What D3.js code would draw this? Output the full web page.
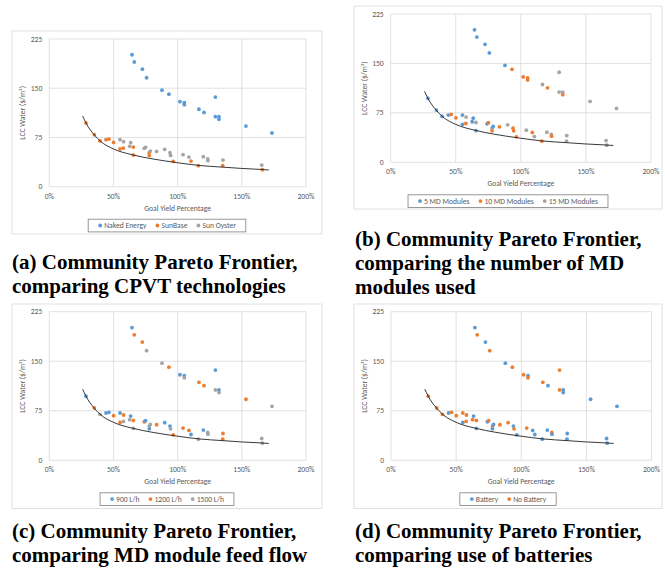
<!DOCTYPE html>
<html>
  <head>
    <title>Community Pareto Frontier</title>
    <script src="https://d3js.org/d3.v7.min.js"></script>
    <style>
      body { margin: 0; background: #fff; }
      .tick-label, .axis-title, .legend text {
        font-family: Carlito, Lato, "Open Sans", sans-serif;
        font-size: 7.6px;
        fill: #595959;
      }
      .caption {
        font-family: "Liberation Serif", "Times New Roman", serif;
        font-weight: bold;
        font-size: 21px;
        fill: #000;
      }
      .grid line { stroke: #d9d9d9; stroke-width: 0.8; }
      .frame { fill: #fff; stroke: #d9d9d9; stroke-width: 0.8; }
      .legend rect { fill: #fff; stroke: #7f7f7f; stroke-width: 0.8; }
    </style>
  </head>
  <body>
    <svg width="665" height="571"></svg>
    <script>
      // points (same 52 designs in every panel)
      const goalYield = [
        64.4, 66.2, 72.5, 75.8, 87.8, 93.2, 101.8, 105.2, 105.2, 116.6, 120.5, 129.4, 129.4, 132.2, 132.2, 153.2, 173.5,
        28.6, 35.1, 39.5, 44.2, 46.5, 50.1, 55.1, 57.7, 65.5, 65.5, 77.9, 77.9, 96.6, 110.4, 116.1, 135.1, 166,
        55.1, 57.9, 62.6, 63.4, 74, 75, 78.7, 83.6, 89.9, 94, 94.5, 104.2, 108.8, 120, 123.4, 123.6, 135.3, 165.5
      ];
      const lccWater = [
        201, 190, 179, 166, 147, 141, 129.5, 128, 125, 118, 113, 136.6, 106.6, 106.6, 102.6, 92.4, 81.8,
        97, 79.2, 69.6, 71.6, 72.6, 67.5, 57.4, 58.9, 60.4, 48.2, 51.8, 47.7, 38.6, 39.1, 32, 32, 25.9,
        71.6, 68.6, 61.5, 67, 58.4, 60, 54.3, 53.8, 56.9, 51.8, 47.7, 48.8, 45.2, 45.7, 42.2, 39.6, 40.6, 33
      ];
      const technology = [
        "NE","NE","NE","NE","NE","NE","NE","NE","NE","NE","NE","NE","NE","NE","NE","NE","NE",
        "SB","SB","SB","SB","SB","SB","SB","SB","SB","SB","SB","SB","SB","SB","SB","SB","SB",
        "SO","SO","SO","SO","SO","SO","SO","SO","SO","SO","SO","SO","SO","SO","SO","SO","SO","SO"
      ];
      const mdModules = [
        5, 5, 5, 5, 5, 10, 10, 10, 10, 15, 10, 15, 15, 15, 10, 15, 15,
        5, 5, 5, 5, 10, 10, 5, 10, 15, 5, 15, 10, 10, 15, 10, 15, 15,
        5, 15, 5, 5, 5, 10, 5, 10, 15, 10, 10, 15, 10, 15, 15, 10, 15, 15
      ];
      const feedFlow = [
        900, 1200, 1200, 1500, 1500, 1200, 900, 900, 1500, 1200, 1200, 900, 1500, 900, 1500, 1200, 1500,
        900, 1200, 1500, 900, 900, 1200, 1200, 1500, 1200, 1500, 1500, 900, 1200, 900, 1500, 1200, 1500,
        900, 1200, 1500, 900, 1200, 900, 1500, 1200, 900, 900, 1500, 1200, 1200, 900, 1500, 1500, 1200, 1500
      ];
      const battery = [
        "B","N","B","N","B","N","N","B","N","N","B","N","N","B","B","B","B",
        "N","N","N","B","N","N","B","N","N","B","N","B","B","B","B","B","B",
        "N","N","N","B","B","N","B","N","N","B","N","N","B","B","N","B","B","B"
      ];

      // pareto frontier line
      const frontierYield = [26, 28.6, 35, 40, 50, 65, 80, 100, 116, 135, 150, 166, 171];
      const frontierLcc = [107.7, 97, 79, 69, 57.5, 48.5, 42.5, 36.5, 32.5, 29.8, 27.8, 26.2, 25.5];

      const xTicks = [0, 50, 100, 150, 200];
      const yTicks = [0, 75, 150, 225];

      const techKeys = ["NE", "SB", "SO"];
      const techLabels = ["Naked Energy", "SunBase", "Sun Oyster"];
      const moduleKeys = [5, 10, 15];
      const moduleLabels = ["5 MD Modules", "10 MD Modules", "15 MD Modules"];
      const flowKeys = [900, 1200, 1500];
      const flowLabels = ["900 L/h", "1200 L/h", "1500 L/h"];
      const batteryKeys = ["B", "N"];
      const batteryLabels = ["Battery", "No Battery"];

      const palette = ["#5b9bd5", "#ed7d31", "#a5a5a5"];

      const svg = d3.select("svg");
      svg.append("rect").attr("width", 665).attr("height", 571).attr("fill", "#fff");

      const panels = [
        {box: [12, 31, 310, 203], plot: [49.3, 306, 39, 186.7], field: technology, keys: techKeys, labels: techLabels,
         caption: ["(a) Community Pareto Frontier,", "comparing CPVT technologies"], capX: 12, capY: 269},
        {box: [354, 6, 308, 203], plot: [390.7, 651, 14, 162.3], field: mdModules, keys: moduleKeys, labels: moduleLabels,
         caption: ["(b) Community Pareto Frontier,", "comparing the number of MD", "modules used"], capX: 355, capY: 246},
        {box: [12, 304, 310, 204.5], plot: [49.3, 306, 311.7, 460.3], field: feedFlow, keys: flowKeys, labels: flowLabels,
         caption: ["(c) Community Pareto Frontier,", "comparing MD module feed flow"], capX: 12, capY: 538},
        {box: [354, 304, 308, 204.5], plot: [391, 651.5, 311.7, 460.3], field: battery, keys: batteryKeys, labels: batteryLabels,
         caption: ["(d) Community Pareto Frontier,", "comparing use of batteries"], capX: 355, capY: 538}
      ];

      panels.forEach(drawPanel);

      function drawPanel(p){
        const [bx, by, bw, bh] = p.box;
        const [x0, x1, y0, y1] = p.plot;
        const xScale = d3.scaleLinear().domain([0, 200]).range([x0, x1]);
        const yScale = d3.scaleLinear().domain([0, 225]).range([y1, y0]);
        const color = d3.scaleOrdinal().domain(p.keys).range(palette);

        const g = svg.append("g");
        g.append("rect").attr("class", "frame")
          .attr("x", bx).attr("y", by).attr("width", bw).attr("height", bh);

        // gridlines
        const grid = g.append("g").attr("class", "grid");
        grid.selectAll(".gy").data(yTicks).enter().append("line")
          .attr("x1", x0).attr("x2", x1)
          .attr("y1", d => yScale(d)).attr("y2", d => yScale(d));
        grid.selectAll(".gx").data(xTicks).enter().append("line")
          .attr("y1", y0).attr("y2", y1)
          .attr("x1", d => xScale(d)).attr("x2", d => xScale(d));

        // tick labels
        g.selectAll(".xl").data(xTicks).enter().append("text")
          .attr("class", "tick-label")
          .attr("x", d => xScale(d)).attr("y", y1 + 12)
          .attr("text-anchor", "middle")
          .text(d => d + "%");
        g.selectAll(".yl").data(yTicks).enter().append("text")
          .attr("class", "tick-label")
          .attr("x", x0 - 7).attr("y", d => yScale(d) + 2.6)
          .attr("text-anchor", "end")
          .text(d => d);

        // axis titles
        g.append("text").attr("class", "axis-title")
          .attr("x", (x0 + x1) / 2).attr("y", y1 + 24)
          .attr("text-anchor", "middle")
          .text("Goal Yield Percentage");
        g.append("text").attr("class", "axis-title")
          .attr("transform", `translate(${x0 - 24}, ${(y0 + y1) / 2}) rotate(-90)`)
          .attr("text-anchor", "middle")
          .text("LCC Water ($/m³)");

        // points
        g.selectAll("circle").data(d3.range(goalYield.length)).enter().append("circle")
          .attr("cx", i => xScale(goalYield[i]))
          .attr("cy", i => yScale(lccWater[i]))
          .attr("r", 1.9)
          .attr("fill", i => color(p.field[i]));

        // frontier
        const line = d3.line()
          .x(i => xScale(frontierYield[i]))
          .y(i => yScale(frontierLcc[i]))
          .curve(d3.curveMonotoneX);
        g.append("path")
          .attr("d", line(d3.range(frontierYield.length)))
          .attr("fill", "none")
          .attr("stroke", "#222")
          .attr("stroke-width", 0.9);

        // legend
        const lg = g.append("g").attr("class", "legend");
        const ly = y1 + 32.5;
        const items = lg.append("g");
        let cx = 0;
        p.labels.forEach((lab, k) => {
          items.append("circle").attr("cx", cx + 2).attr("cy", 0).attr("r", 1.9)
            .attr("fill", palette[k]);
          const t = items.append("text").attr("x", cx + 6).attr("y", 2.6).text(lab);
          cx += 6 + t.node().getComputedTextLength() + 9;
        });
        const w = cx - 9;
        const lx = bx + bw / 2 - w / 2;
        items.attr("transform", `translate(${lx}, ${ly + 6.3})`);
        lg.insert("rect", ":first-child")
          .attr("x", lx - 10).attr("y", ly)
          .attr("width", w + 20).attr("height", 12.7);

        // caption
        const cap = svg.append("text").attr("class", "caption")
          .attr("x", p.capX).attr("y", p.capY);
        p.caption.forEach((s, k) => {
          cap.append("tspan").attr("x", p.capX).attr("dy", k ? 24 : 0).text(s);
        });
      }
    </script>
  </body>
</html>
